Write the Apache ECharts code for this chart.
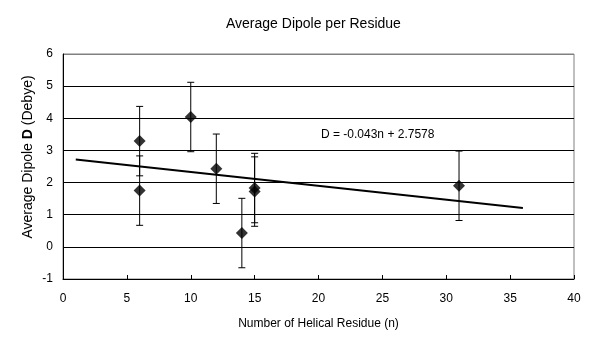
<!DOCTYPE html>
<html>
<head>
<meta charset="utf-8">
<script src="https://cdn.jsdelivr.net/npm/echarts@6/dist/echarts.min.js"></script>
<style>html,body{margin:0;padding:0;background:#fff}#c{width:606px;height:350px}</style>
</head>
<body>
<div id="c"></div>
<script>
var residues = [6, 6, 10, 12, 14, 15, 15, 31];
var dipoles = [3.29, 1.75, 4.04, 2.43, 0.43, 1.83, 1.72, 1.90];
var errors = [1.08, 1.08, 1.08, 1.08, 1.08, 1.08, 1.08, 1.08];
var trendX = [1, 36];
var trendY = [2.715, 1.21];
var xTicks = [0, 5, 10, 15, 20, 25, 30, 35, 40];
var yTicks = [-1, 0, 1, 2, 3, 4, 5, 6];
var FONT = '"Liberation Sans", Arial, sans-serif';

var chart = echarts.init(document.getElementById('c'), null, {renderer: 'canvas'});
var pts = residues.map(function (x, i) { return [x, dipoles[i], errors[i]]; });
var trend = trendX.map(function (x, i) { return [x, trendY[i]]; });
var splitColors = yTicks.map(function (v, i) { return i === yTicks.length - 1 ? '#808080' : '#000'; });

chart.setOption({
  backgroundColor: '#fff',
  animation: false,
  textStyle: {fontFamily: FONT},
  title: {
    text: 'Average Dipole per Residue',
    left: 221, top: 12,
    textStyle: {fontSize: 14, fontWeight: 'normal', color: '#000', fontFamily: FONT}
  },
  grid: {left: 63, right: 32, top: 54, bottom: 71, show: true, borderColor: '#808080', borderWidth: 1, backgroundColor: '#fff'},
  xAxis: {
    type: 'value', min: xTicks[0], max: xTicks[xTicks.length - 1], interval: 5,
    axisLine: {onZero: false, lineStyle: {color: '#000', width: 1}},
    axisTick: {show: true, inside: true, length: 4, lineStyle: {color: '#000'}},
    axisLabel: {color: '#000', fontSize: 12, margin: 14, fontFamily: FONT},
    splitLine: {show: false},
    name: 'Number of Helical Residue (n)', nameLocation: 'middle', nameGap: 39,
    nameTextStyle: {color: '#000', fontSize: 12, fontFamily: FONT}
  },
  yAxis: {
    type: 'value', min: yTicks[0], max: yTicks[yTicks.length - 1], interval: 1,
    axisLine: {show: true, lineStyle: {color: '#000', width: 1}},
    axisTick: {show: false},
    axisLabel: {color: '#000', fontSize: 12, margin: 10, fontFamily: FONT},
    splitLine: {show: true, lineStyle: {color: splitColors, width: 1}}
  },
  graphic: [
    {
      type: 'text', x: 28, y: 157, rotation: Math.PI / 2,
      style: {
        text: 'Average Dipole {b|D} (Debye)',
        fontSize: 14, fontFamily: FONT, fill: '#000',
        align: 'center', verticalAlign: 'middle',
        rich: {b: {fontWeight: 'bold', fontSize: 14, fontFamily: FONT}}
      }
    },
    {
      type: 'text', x: 321, y: 135,
      style: {text: 'D = -0.043n + 2.7578', fontSize: 12, fontFamily: FONT, fill: '#000', align: 'left', verticalAlign: 'middle'}
    }
  ],
  series: [
    {
      type: 'line', data: trend, symbol: 'none',
      lineStyle: {color: '#000', width: 2}, z: 3
    },
    {
      type: 'custom', data: pts, z: 4,
      renderItem: function (params, api) {
        var x = api.value(0), y = api.value(1), e = api.value(2);
        var top = api.coord([x, y + e]);
        var bot = api.coord([x, y - e]);
        var cw = 3.5;
        var st = {stroke: '#000', lineWidth: 1};
        return {
          type: 'group',
          children: [
            {type: 'line', shape: {x1: top[0], y1: top[1], x2: bot[0], y2: bot[1]}, style: st},
            {type: 'line', shape: {x1: top[0] - cw, y1: top[1], x2: top[0] + cw, y2: top[1]}, style: st},
            {type: 'line', shape: {x1: bot[0] - cw, y1: bot[1], x2: bot[0] + cw, y2: bot[1]}, style: st}
          ]
        };
      }
    },
    {
      type: 'scatter', data: pts, symbol: 'diamond', symbolSize: 12, z: 5,
      itemStyle: {color: '#000'}
    }
  ]
});
</script>
</body>
</html>
